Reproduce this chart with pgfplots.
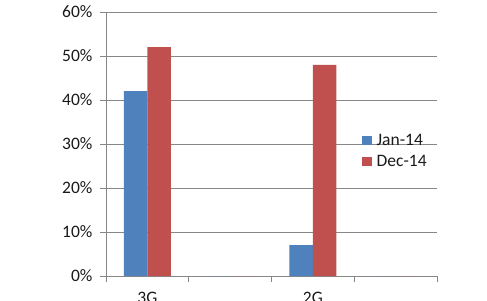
\documentclass[border=0pt]{standalone}
\usepackage{pgfplots}
\pgfplotsset{compat=1.18}
\usepackage{fontspec}
\setmainfont{Carlito}
\definecolor{cblue}{HTML}{4F81BD}
\definecolor{cred}{HTML}{C0504D}
\definecolor{cgrid}{HTML}{878787}
\definecolor{ctext}{HTML}{1A1A1A}
\begin{document}
\begin{tikzpicture}
\path[use as bounding box] (-106pt,-24pt) rectangle (381pt,276pt);
\clip (-106pt,-24pt) rectangle (381pt,276pt);
\begin{axis}[
  scale only axis,
  width=331pt, height=264pt,
  ybar=0pt, bar width=23.5pt,
  xmin=-0.5, xmax=3.5,
  ymin=0, ymax=60,
  axis lines=left,
  axis line style={-, draw=cgrid, line width=0.8pt},
  ytick={0,10,...,60},
  yticklabel={\pgfmathprintnumber{\tick}\%},
  xtick={0,1,2,3},
  xticklabels={3G,,2G,},
  minor xtick={-0.5,0.5,1.5,2.5,3.5},
  major x tick style={draw=none},
  minor x tick style={draw=cgrid, line width=0.8pt},
  minor tick length=6pt,
  major tick length=6pt,
  y tick style={draw=cgrid, line width=0.8pt},
  tick align=outside,
  ymajorgrids,
  major grid style={draw=cgrid, line width=0.8pt},
  tick label style={font=\fontsize{17.5}{20}\selectfont, text=ctext},
  /pgf/number format/assume math mode=true,
  yticklabel style={xshift=-4pt},
  xticklabel style={yshift=-7pt},
  legend style={draw=none, fill=none, at={(0.773,0.4735)}, anchor=west,
    inner sep=0pt,
    font=\fontsize{17.5}{20}\selectfont, text=ctext, row sep=6pt,
    nodes={inner sep=1pt},
    /tikz/every odd column/.append style={column sep=4pt}},
  legend cell align=left,
  legend image code/.code={\fill[#1] (0pt,-4.8pt) rectangle (9.6pt,4.8pt);},
]
\addplot[fill=cblue, draw=none] coordinates {(0,42) (1,0) (2,7) (3,0)};
\addplot[fill=cred, draw=none] coordinates {(0,52) (1,0) (2,48) (3,0)};
\legend{Jan-14, Dec-14}
\end{axis}
\end{tikzpicture}
\end{document}
